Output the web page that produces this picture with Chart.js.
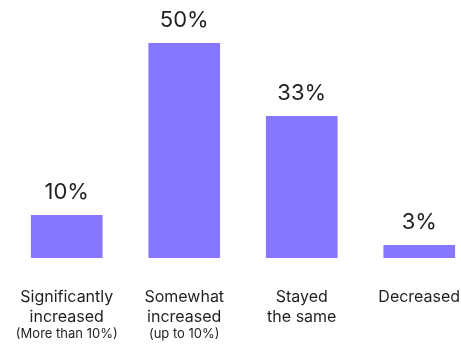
<!DOCTYPE html>
<html lang="en">
<head>
  <meta charset="UTF-8" />
  <title>Change survey</title>
  <script src="https://cdn.jsdelivr.net/npm/chart.js"></script>
  <style>
    body { margin: 0; padding: 0; background: white; overflow: hidden; }
    canvas { display: block; }
  </style>
</head>
<body>
  <canvas id="chart" width="480" height="346"></canvas>
  <script>
    const categories = [
      ['Significantly', 'increased'],
      ['Somewhat', 'increased'],
      ['Stayed', 'the same'],
      ['Decreased']
    ];
    const subNotes = ['(More than 10%)', '(up to 10%)', '', ''];
    const values = [10, 50, 33, 3];

    const FONT = 'Inter, "Noto Sans", sans-serif';

    // value labels above bars + small notes under the category labels
    const labelPlugin = {
      id: 'labels',
      afterDatasetsDraw(chart) {
        const ctx = chart.ctx;
        const meta = chart.getDatasetMeta(0);
        ctx.save();
        ctx.fillStyle = '#1f1f1f';
        ctx.textAlign = 'center';
        ctx.textBaseline = 'alphabetic';
        ctx.font = '22px ' + FONT;
        meta.data.forEach((bar, i) => {
          ctx.fillText(values[i] + '%', bar.x, bar.y - 16);
        });
        ctx.font = '13px ' + FONT;
        const xScale = chart.scales.x;
        subNotes.forEach((note, i) => {
          if (!note) return;
          ctx.fillText(note, xScale.getPixelForValue(i), chart.chartArea.bottom + 80);
        });
        ctx.restore();
      }
    };

    new Chart(document.getElementById('chart'), {
      type: 'bar',
      data: {
        labels: categories,
        datasets: [{
          data: values,
          backgroundColor: '#8677FE',
          barPercentage: 0.61,
          categoryPercentage: 1
        }]
      },
      options: {
        responsive: false,
        animation: false,
        layout: { padding: { top: 43, left: 8, right: 2, bottom: 20 } },
        plugins: { legend: { display: false }, tooltip: { enabled: false } },
        scales: {
          x: {
            grid: { display: false, drawTicks: false },
            border: { display: false },
            ticks: {
              color: '#1f1f1f',
              padding: 30,
              maxRotation: 0,
              font: { family: FONT, size: 16, lineHeight: 1.2 }
            },
            afterFit(scale) { scale.height = 68; scale.paddingLeft = 0; scale.paddingRight = 0; }
          },
          y: { display: false, min: 0, max: 50 }
        }
      },
      plugins: [labelPlugin]
    });
  </script>
</body>
</html>
